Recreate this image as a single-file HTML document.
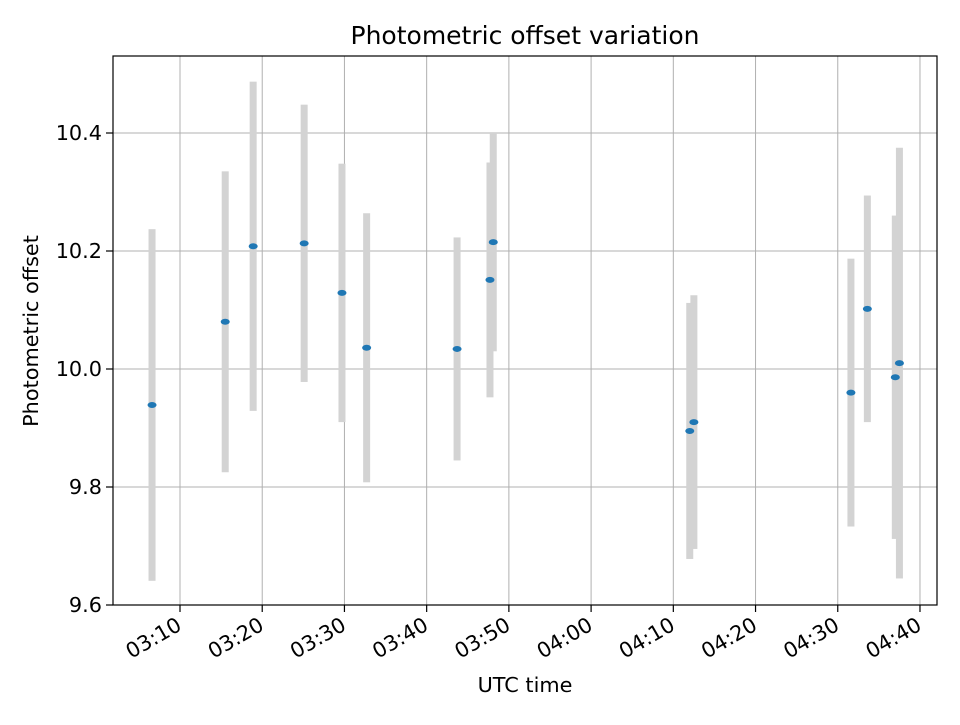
<!DOCTYPE html>
<html><head><meta charset="utf-8"><style>
body{margin:0;background:#fff;}
svg text{font-family:"DejaVu Sans","Liberation Sans",sans-serif;fill:#000;}
</style></head><body>
<svg id="chart" width="960" height="720" xmlns="http://www.w3.org/2000/svg">
<rect width="960" height="720" fill="#fff"/>
<text x="525" y="44" style="font-size:25px" text-anchor="middle">Photometric offset variation</text>
<g id="grid"></g>
<g id="bars"></g>
<g id="points"></g>
<rect x="113" y="56" width="824" height="549" fill="none" stroke="#000" stroke-width="1.2"/>
<g id="ticks"></g>
<text x="525" y="692" style="font-size:20.8px" text-anchor="middle">UTC time</text>
<text transform="translate(38,331) rotate(-90)" style="font-size:20.8px" text-anchor="middle">Photometric offset</text>
</svg>
<script>
// data: minutes since 03:00, offset values, error half-widths
const times = [6.6,15.5,18.9,25.1,29.7,32.7,43.7,47.7,48.1,72.0,72.5,91.6,93.6,97.0,97.5];
const values = [9.939,10.080,10.208,10.213,10.129,10.036,10.034,10.151,10.215,9.895,9.910,9.960,10.102,9.986,10.010];
const errors = [0.298,0.255,0.279,0.235,0.219,0.228,0.189,0.199,0.185,0.217,0.215,0.227,0.192,0.274,0.365];
const xTicks = [10,20,30,40,50,60,70,80,90,100];
const xTickLabels = ["03:10","03:20","03:30","03:40","03:50","04:00","04:10","04:20","04:30","04:40"];
const yTicks = [9.6,9.8,10.0,10.2,10.4];
const yTickLabels = ["9.6","9.8","10.0","10.2","10.4"];

const X = m => 180 + (m-10)*8.222;
const Y = v => 369 - (v-10.0)*590;
const NS="http://www.w3.org/2000/svg";
function mk(tag, parent, attrs){const e=document.createElementNS(NS,tag);for(const k in attrs)e.setAttribute(k,attrs[k]);parent.appendChild(e);return e;}
const grid=document.getElementById('grid'),ticks=document.getElementById('ticks'),bars=document.getElementById('bars'),pts=document.getElementById('points');
xTicks.forEach((t,i)=>{
  const x=X(t);
  const g=mk('line',grid,{x1:x,x2:x,y1:56,y2:605,stroke:'#b0b0b0','stroke-width':1});
  
  
  const tk=mk('line',ticks,{x1:x,x2:x,y1:605,y2:612,stroke:'#000','stroke-width':1.2});
  
  
  const tx=mk('text',ticks,{transform:`translate(${x+3},629) rotate(-30)`,style:'font-size:20.8px','text-anchor':'end'});
  tx.textContent=xTickLabels[i];
  
  
});
yTicks.forEach((t,i)=>{
  const y=Y(t);
  const g=mk('line',grid,{x1:113,x2:937,y1:y,y2:y,stroke:'#b0b0b0','stroke-width':1});
  
  
  const tk=mk('line',ticks,{x1:106,x2:113,y1:y,y2:y,stroke:'#000','stroke-width':1.2});
  
  
  const tx=mk('text',ticks,{x:102,y:y+7,style:'font-size:20.8px','text-anchor':'end'});
  tx.textContent=yTickLabels[i];
  
  
});
times.forEach((t,i)=>{
  const x=X(t),top=Y(values[i]+errors[i]),bot=Y(values[i]-errors[i]);
  const b=mk('rect',bars,{x:x-3.5,y:top,width:7,height:bot-top,fill:'#d3d3d3'});
  
  
  const p=mk('ellipse',pts,{cx:x,cy:Y(values[i]),rx:4.5,ry:3,fill:'#1f77b4'});
  
  
});
</script>
</body></html>
